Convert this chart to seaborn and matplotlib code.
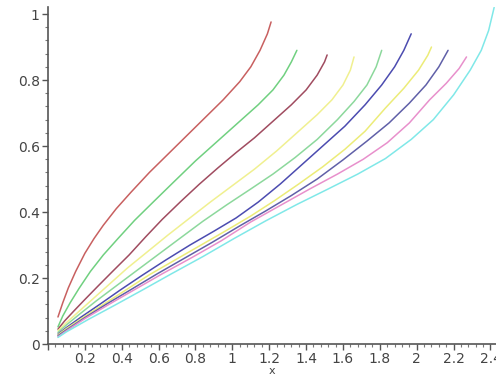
import numpy as np
import pandas as pd
import matplotlib
matplotlib.use("Agg")
import matplotlib.pyplot as plt
import seaborn as sns
from matplotlib.ticker import MultipleLocator, FuncFormatter

# curves, left to right
red_x = [0.054, 0.08, 0.11, 0.15, 0.2, 0.25, 0.3, 0.37, 0.45, 0.55, 0.65, 0.75, 0.85, 0.95, 1.04, 1.1, 1.15, 1.19, 1.21]
red_y = [0.082, 0.125, 0.17, 0.22, 0.275, 0.32, 0.36, 0.41, 0.46, 0.52, 0.575, 0.63, 0.685, 0.74, 0.795, 0.84, 0.89, 0.94, 0.976]
green_x = [0.054, 0.08, 0.12, 0.17, 0.23, 0.3, 0.38, 0.47, 0.57, 0.68, 0.8, 0.92, 1.04, 1.14, 1.22, 1.28, 1.32, 1.35]
green_y = [0.052, 0.085, 0.125, 0.17, 0.22, 0.27, 0.32, 0.375, 0.43, 0.49, 0.555, 0.615, 0.675, 0.725, 0.77, 0.815, 0.855, 0.89]
maroon_x = [0.054, 0.09, 0.14, 0.2, 0.27, 0.35, 0.44, 0.53, 0.62, 0.72, 0.82, 0.92, 1.02, 1.12, 1.22, 1.32, 1.4, 1.46, 1.5, 1.514]
maroon_y = [0.045, 0.07, 0.1, 0.135, 0.175, 0.22, 0.27, 0.325, 0.378, 0.432, 0.484, 0.533, 0.58, 0.625, 0.675, 0.725, 0.77, 0.815, 0.855, 0.876]
yellow_x = [0.054, 0.1, 0.16, 0.24, 0.33, 0.43, 0.54, 0.65, 0.76, 0.88, 1.0, 1.12, 1.24, 1.36, 1.46, 1.54, 1.6, 1.64, 1.66]
yellow_y = [0.04, 0.065, 0.095, 0.135, 0.18, 0.23, 0.28, 0.33, 0.378, 0.43, 0.48, 0.53, 0.585, 0.645, 0.695, 0.74, 0.785, 0.83, 0.87]
aqua_x = [0.054, 0.1, 0.17, 0.26, 0.36, 0.47, 0.59, 0.71, 0.84, 0.97, 1.1, 1.22, 1.34, 1.46, 1.57, 1.66, 1.73, 1.78, 1.81]
aqua_y = [0.035, 0.058, 0.09, 0.13, 0.172, 0.218, 0.268, 0.318, 0.372, 0.422, 0.47, 0.515, 0.565, 0.62, 0.68, 0.735, 0.785, 0.84, 0.89]
blue_x = [0.054, 0.1, 0.18, 0.28, 0.39, 0.51, 0.64, 0.77, 0.9, 1.02, 1.14, 1.26, 1.38, 1.5, 1.61, 1.72, 1.81, 1.88, 1.93, 1.97]
blue_y = [0.03, 0.05, 0.082, 0.12, 0.163, 0.208, 0.255, 0.3, 0.342, 0.382, 0.43, 0.485, 0.545, 0.605, 0.66, 0.725, 0.785, 0.84, 0.89, 0.94]
khaki_x = [0.054, 0.1, 0.19, 0.3, 0.42, 0.55, 0.69, 0.83, 0.97, 1.1, 1.23, 1.36, 1.49, 1.61, 1.72, 1.83, 1.93, 2.01, 2.06, 2.08]
khaki_y = [0.028, 0.047, 0.08, 0.12, 0.163, 0.21, 0.255, 0.3, 0.345, 0.388, 0.435, 0.485, 0.537, 0.59, 0.645, 0.715, 0.775, 0.83, 0.875, 0.9]
navy_x = [0.054, 0.1, 0.2, 0.32, 0.45, 0.59, 0.74, 0.89, 1.04, 1.18, 1.32, 1.46, 1.6, 1.73, 1.85, 1.96, 2.05, 2.12, 2.17]
navy_y = [0.025, 0.043, 0.08, 0.122, 0.165, 0.212, 0.26, 0.308, 0.358, 0.403, 0.45, 0.5, 0.558, 0.615, 0.67, 0.73, 0.785, 0.84, 0.89]
pink_x = [0.054, 0.1, 0.2, 0.33, 0.47, 0.62, 0.78, 0.94, 1.1, 1.26, 1.42, 1.57, 1.71, 1.84, 1.96, 2.07, 2.16, 2.23, 2.27]
pink_y = [0.022, 0.04, 0.077, 0.12, 0.165, 0.213, 0.262, 0.313, 0.37, 0.42, 0.47, 0.515, 0.56, 0.61, 0.67, 0.74, 0.79, 0.835, 0.87]
cyan_x = [0.054, 0.1, 0.22, 0.36, 0.51, 0.67, 0.84, 1.01, 1.18, 1.35, 1.52, 1.68, 1.83, 1.97, 2.09, 2.2, 2.29, 2.35, 2.39, 2.42]
cyan_y = [0.02, 0.037, 0.075, 0.117, 0.163, 0.213, 0.265, 0.32, 0.373, 0.423, 0.47, 0.515, 0.562, 0.62, 0.68, 0.755, 0.83, 0.89, 0.95, 1.02]

curves = {
    "red": (red_x, red_y),
    "green": (green_x, green_y),
    "maroon": (maroon_x, maroon_y),
    "yellow": (yellow_x, yellow_y),
    "aqua": (aqua_x, aqua_y),
    "blue": (blue_x, blue_y),
    "khaki": (khaki_x, khaki_y),
    "navy": (navy_x, navy_y),
    "pink": (pink_x, pink_y),
    "cyan": (cyan_x, cyan_y),
}
colors = {
    "red": "#c86060", "green": "#70d080", "maroon": "#a04c60",
    "yellow": "#f0f090", "aqua": "#8cd89c", "blue": "#4c4cb0",
    "khaki": "#ecec78", "navy": "#6060a8", "pink": "#e890cc",
    "cyan": "#80e8e8",
}

sns.set_style("white")
fig = plt.figure(figsize=(4.96, 3.81), dpi=100)
ax = fig.add_axes([0.0968, 0.097, 0.9032, 0.8835])

for name, (xs, ys) in curves.items():
    df = pd.DataFrame({"x": xs, "y": ys})
    sns.lineplot(data=df, x="x", y="y", ax=ax, color=colors[name],
                 lw=1.1, sort=False, estimator=None)

ax.set_xlim(0, 2.43)
ax.set_ylim(0, 1.02)
for s in ["top", "right"]:
    ax.spines[s].set_visible(False)
for s in ["left", "bottom"]:
    ax.spines[s].set_color("#555555")
    ax.spines[s].set_linewidth(1.2)

ax.xaxis.set_major_locator(MultipleLocator(0.2))
ax.xaxis.set_minor_locator(MultipleLocator(0.04))
ax.yaxis.set_major_locator(MultipleLocator(0.2))
ax.yaxis.set_minor_locator(MultipleLocator(0.04))

ax.xaxis.set_major_formatter(FuncFormatter(lambda v, p: "" if abs(v) < 1e-9 else "%g" % round(v, 2)))
ax.yaxis.set_major_formatter(FuncFormatter(lambda v, p: "%g" % round(v, 2)))
ax.tick_params(which="major", direction="out", length=4, width=1, color="#555555",
               labelsize=10, labelcolor="#444444", bottom=True, left=True, pad=2)
ax.tick_params(which="minor", direction="out", length=2, width=0.8, color="#777777",
               bottom=True, left=True)
ax.set_xlabel("x", fontsize=8, color="#444444", labelpad=0)
ax.set_ylabel("")

fig.savefig("out.png", dpi=100)
